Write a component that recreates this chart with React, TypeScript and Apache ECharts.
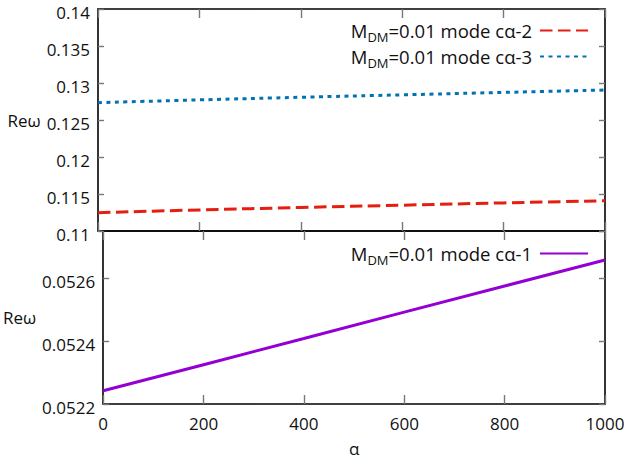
import React, { useEffect, useRef } from "react";
import * as echarts from "echarts";

const alpha = [0, 200, 400, 600, 800, 1000];
const mode2 = [0.11247, 0.11285, 0.11318, 0.11349, 0.1138, 0.11409];
const mode3 = [0.12734, 0.12772, 0.12807, 0.1284, 0.12873, 0.12905];
const mode1 = [0.052242, 0.052325, 0.052408, 0.052492, 0.052575, 0.052658];
const seriesNames = ["mode cα-2", "mode cα-3", "mode cα-1"];
const topTicks = { min: 0.11, max: 0.14, interval: 0.005 };
const bottomTicks = { min: 0.0522, max: 0.05275, interval: 0.0002 };
const xTicks = { min: 0, max: 1000, interval: 200 };

const FONT = "Open Sans";
const TXT = "#111";

export default function App() {
  const ref = useRef<HTMLDivElement>(null);
  useEffect(() => {
    const chart = echarts.init(ref.current!, undefined, { renderer: "svg" });
    const toPairs = (ys: number[]) => alpha.map((a, i) => [a, ys[i]]);
    const fmt = (v: number) => String(+v.toFixed(6));
    const labelStyle = {
      fontFamily: FONT,
      fontSize: 17,
      lineHeight: 17,
      color: TXT,
      formatter: fmt,
    };
    const yLabelStyle = {
      fontFamily: FONT,
      fontSize: 17,
      color: TXT,
      formatter: (v: number) => `{a|${fmt(v)}}`,
      rich: {
        a: { fontFamily: FONT, fontSize: 17, color: TXT, padding: [6, 0, 0, 0] },
      },
    };

    const xBase = (gridIndex: number, position: string, labels: boolean, extra: any = {}) => ({
      type: "value",
      gridIndex,
      position,
      ...xTicks,
      axisLine: { show: true, onZero: false, lineStyle: { color: "#000", width: 1.6 } },
      axisTick: { show: true, inside: true, length: 9, lineStyle: { color: "#777", width: 1.4 } },
      axisLabel: { show: labels, margin: 11, ...labelStyle },
      splitLine: { show: false },
      ...extra,
    });
    const yBase = (gridIndex: number, position: string, labels: boolean, ticks: any, extra: any = {}) => ({
      type: "value",
      gridIndex,
      position,
      ...ticks,
      axisLine: { show: true, onZero: false, lineStyle: { color: "#000", width: 1.6 } },
      axisTick: { show: true, inside: true, length: 6, lineStyle: { color: "#777", width: 1.4 } },
      axisLabel: { show: labels, margin: 8, ...yLabelStyle },
      splitLine: { show: false },
      ...extra,
    });
    const nameStyle = { fontFamily: FONT, fontSize: 17, lineHeight: 17, color: TXT };
    const rich = {
      m: { fontFamily: FONT, fontSize: 18.5, color: TXT },
      s: { fontFamily: FONT, fontSize: 13, color: TXT, padding: [12, 0, 0, 0] },
      e: { fontFamily: FONT, fontSize: 18.5, color: TXT, padding: [0, 3, 0, 0] },
    };
    const legendFmt = (name: string) => `{m|M}{s|DM}{e|=0.01 ${name}}`;
    const legendBase = {
      orient: "vertical",
      right: 39,
      padding: 0,
      align: "right",
      itemWidth: 48,
      itemHeight: 14,
      formatter: legendFmt,
      textStyle: { rich },
      itemStyle: { opacity: 0 },
    };

    chart.setOption({
      animation: false,
      backgroundColor: "#fff",
      grid: [
        { left: 98, top: 9, width: 507, height: 222 },
        { left: 98, top: 231, width: 507, height: 173 },
      ],
      legend: [
        { ...legendBase, data: [seriesNames[0], seriesNames[1]], top: 21, itemGap: 4 },
        { ...legendBase, data: [seriesNames[2]], top: 244 },
      ],
      xAxis: [
        xBase(0, "bottom", false),
        xBase(0, "top", false),
        xBase(1, "bottom", true, {
          name: "α",
          nameLocation: "middle",
          nameGap: 36,
          nameTextStyle: nameStyle,
        }),
        xBase(1, "top", false),
      ],
      yAxis: [
        yBase(0, "left", true, topTicks, {
          name: "Reω",
          nameLocation: "middle",
          nameRotate: 0,
          nameGap: 55,
          nameTextStyle: nameStyle,
        }),
        yBase(0, "right", false, topTicks),
        yBase(1, "left", true, bottomTicks, {
          name: "Reω",
          nameLocation: "middle",
          nameRotate: 0,
          nameGap: 55,
          nameTextStyle: nameStyle,
          axisLabel: { show: true, margin: 8, ...yLabelStyle, showMaxLabel: false },
        }),
        yBase(1, "right", false, bottomTicks),
      ],
      series: [
        {
          name: seriesNames[0],
          type: "line",
          xAxisIndex: 0,
          yAxisIndex: 0,
          data: toPairs(mode2),
          smooth: true,
          symbol: "none",
          lineStyle: { color: "#e51e10", width: 3, type: [12.5, 5.5], cap: "butt" },
          itemStyle: { color: "#e51e10" },
        },
        {
          name: seriesNames[1],
          type: "line",
          xAxisIndex: 0,
          yAxisIndex: 0,
          data: toPairs(mode3),
          smooth: true,
          symbol: "none",
          lineStyle: { color: "#0072b2", width: 3, type: [4, 4.5], cap: "butt" },
          itemStyle: { color: "#0072b2" },
        },
        {
          name: seriesNames[2],
          type: "line",
          xAxisIndex: 2,
          yAxisIndex: 2,
          data: toPairs(mode1),
          symbol: "none",
          lineStyle: { color: "#9400d3", width: 3 },
          itemStyle: { color: "#9400d3" },
        },
      ],
    });
    return () => chart.dispose();
  }, []);
  return (
    <div
      ref={ref}
      style={{ position: "fixed", left: 0, top: 0, width: 628, height: 462, background: "#fff" }}
    />
  );
}
